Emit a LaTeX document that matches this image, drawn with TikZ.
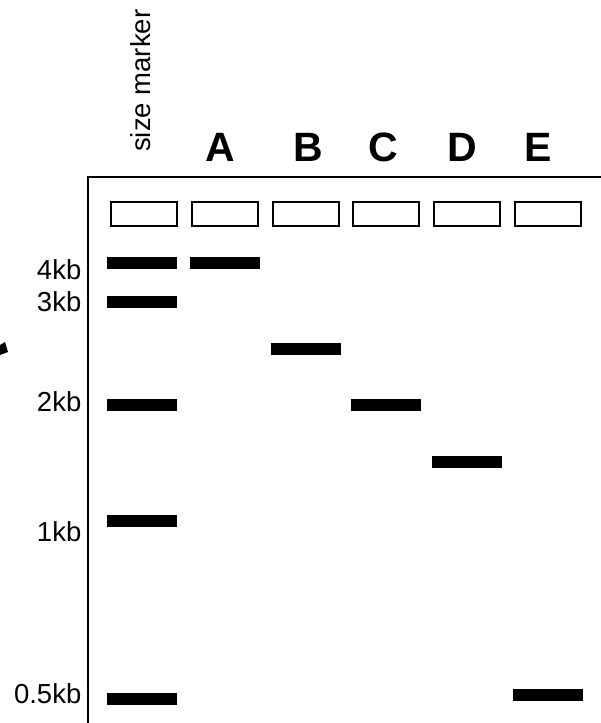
\documentclass[tikz,border=0pt]{standalone}
\usepackage{fontspec}
\setmainfont{Liberation Sans}
\begin{document}
\begin{tikzpicture}[x=1pt,y=-1pt,
  well/.style={draw=black,line width=2pt,fill=white,minimum width=66pt,minimum height=24pt,inner sep=0pt,outer sep=0pt},
  band/.style={fill=black,minimum width=70pt,minimum height=12pt,inner sep=0pt,outer sep=0pt},
  kblabel/.style={anchor=east,inner sep=0pt,font=\fontsize{27.5}{27.5}\selectfont},
  lane/.style={inner sep=0pt,font=\bfseries\fontsize{41}{41}\selectfont}]
\useasboundingbox (0,0) rectangle (600,723);
% frame
\coordinate (fb) at (88,724);
\coordinate (fc) at (88,177);
\coordinate (fr) at (601,177);
\draw[line width=2pt] (fb) -- (fc) -- (fr);
% wells
\node[well] (w0) at (144,214) {};
\node[well] (w1) at (225,214) {};
\node[well] (w2) at (306,214) {};
\node[well] (w3) at (386,214) {};
\node[well] (w4) at (467,214) {};
\node[well] (w5) at (547.5,214) {};
% marker bands
\node[band] (m4) at (142,263) {};
\node[band] (m3) at (142,302) {};
\node[band] (m2) at (142,405) {};
\node[band] (m1) at (142,521) {};
\node[band] (m05) at (142,699) {};
% sample bands
\node[band] (bA) at (225,263) {};
\node[band] (bB) at (305.5,348.5) {};
\node[band] (bC) at (386,405) {};
\node[band] (bD) at (466.5,461.5) {};
\node[band] (bE) at (547.5,695) {};
% size labels
\node[kblabel] (l4) at (81.5,270) {4kb};
\node[kblabel] (l3) at (81.5,302) {3kb};
\node[kblabel] (l2) at (81.5,402) {2kb};
\node[kblabel] (l1) at (81.5,532) {1kb};
\node[kblabel] (l05) at (81.5,694) {0.5kb};
% lane labels
\node[lane] (A) at (220.5,147) {A};
\node[lane] (B) at (308.5,147) {B};
\node[lane] (C) at (383,147) {C};
\node[lane] (D) at (462,147) {D};
\node[lane] (E) at (538.5,147) {E};
\node[rotate=90,anchor=south west,inner sep=0pt,font=\fontsize{27.5}{27.5}\selectfont] (sm) at (151,152) {size marker};
% stray mark at left edge
\fill (0,345) -- (5,342) -- (8,352) -- (0,355) -- cycle;
\end{tikzpicture}
\end{document}
